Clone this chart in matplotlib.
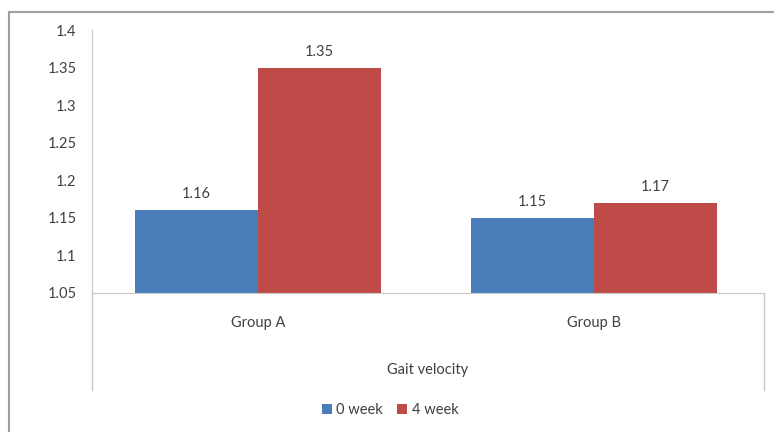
import numpy as np
import matplotlib.pyplot as plt
from matplotlib.lines import Line2D

plt.rcParams['font.family'] = ['Lato', 'DejaVu Sans']

groups = ["Group A", "Group B"]
week0 = [1.16, 1.15]
week4 = [1.35, 1.17]
series_names = ["0 week", "4 week"]
yticks = [1.05, 1.1, 1.15, 1.2, 1.25, 1.3, 1.35, 1.4]
ytick_labels = ["1.05", "1.1", "1.15", "1.2", "1.25", "1.3", "1.35", "1.4"]

blue = "#4a7ebb"
red = "#be4b48"
text_col = "#404040"

fig = plt.figure(figsize=(7.74, 4.32), dpi=100)
ax = fig.add_axes([92/774, 1 - 293/432, 672/774, 263/432])

x = np.arange(len(groups))
w = 0.365
base = 1.05
b1 = ax.bar(x - w/2, np.array(week0) - base, w, bottom=base, color=blue, label=series_names[0])
b2 = ax.bar(x + w/2, np.array(week4) - base, w, bottom=base, color=red, label=series_names[1])

for bars, vals in [(b1, week0), (b2, week4)]:
    for b, v in zip(bars, vals):
        ax.text(b.get_x() + b.get_width()/2, v + 0.012, "%.2f" % v,
                ha="center", va="bottom", fontsize=10.5, color=text_col)

ax.set_xlim(-0.494, 1.506)
ax.set_ylim(1.05, 1.4)
ax.set_yticks(yticks)
ax.set_yticklabels(ytick_labels, fontsize=10.5, color=text_col)
ax.tick_params(axis="y", length=0, pad=11)
ax.set_xticks([])
for s in ["top", "right"]:
    ax.spines[s].set_visible(False)
ax.spines["left"].set_color("#c8c8c8")
ax.spines["bottom"].set_color("#c8c8c8")

# multi-level category axis: separators at both ends
trans = ax.get_xaxis_transform()
for xs in [-0.494, 1.506]:
    ax.add_line(Line2D([xs, xs], [0, -0.37], transform=trans,
                       color="#c8c8c8", lw=1, clip_on=False))
for i, g in enumerate(groups):
    ax.text(x[i], -30/263, g, transform=trans, ha="center", va="center",
            fontsize=10.5, color=text_col)
ax.text(0.5, -77/263, "Gait velocity", transform=ax.transAxes, ha="center",
        va="center", fontsize=10.5, color=text_col)

fig.legend(handles=[b1, b2], labels=series_names, loc="center",
           bbox_to_anchor=(390/774, 1 - 410/432), ncol=2, frameon=False,
           fontsize=10.5, handlelength=0.7, handleheight=0.7,
           columnspacing=1.0, handletextpad=0.3, labelcolor=text_col)

# outer chart border
fig.add_artist(Line2D([9/774, 9/774], [0, 1 - 12/432], transform=fig.transFigure,
                      color="#a0a0a0", lw=1.5))
fig.add_artist(Line2D([9/774, 1], [1 - 12/432, 1 - 12/432], transform=fig.transFigure,
                      color="#a0a0a0", lw=1.5))

fig.savefig("out.png", dpi=100)
